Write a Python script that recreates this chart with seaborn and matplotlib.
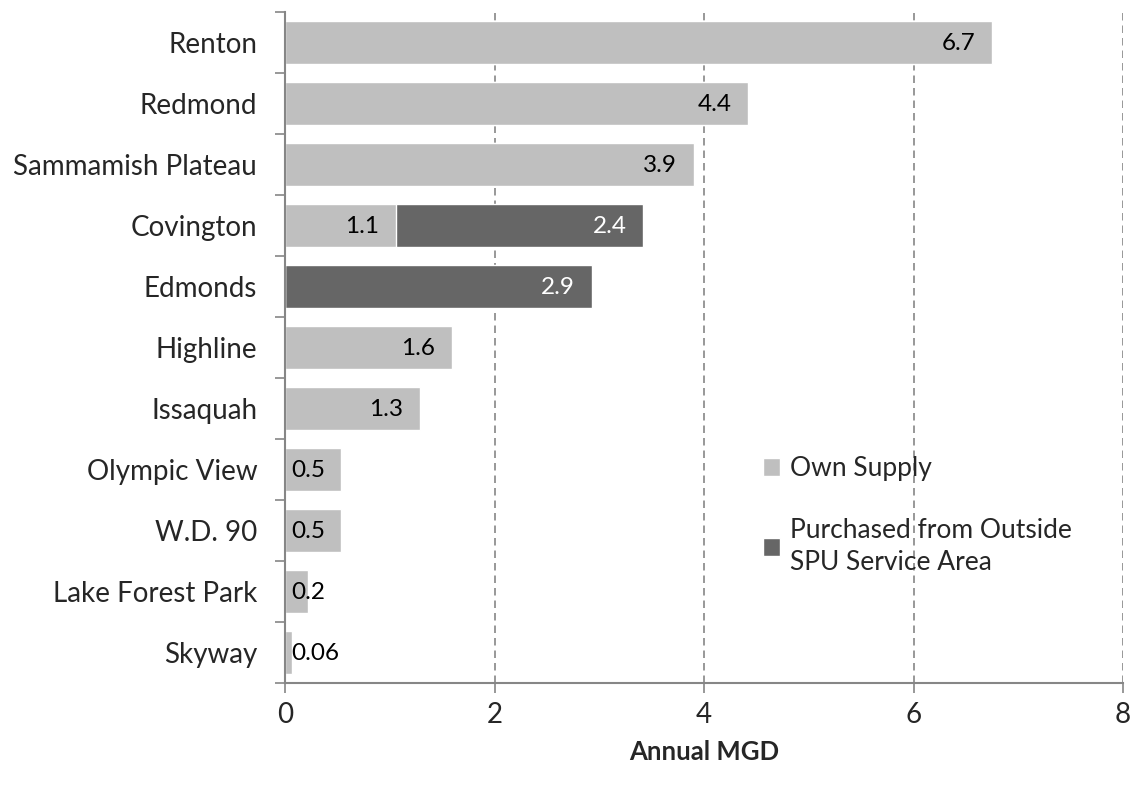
import seaborn as sns
import matplotlib.pyplot as plt
import pandas as pd

# data
districts = ["Renton", "Redmond", "Sammamish Plateau", "Covington", "Edmonds",
             "Highline", "Issaquah", "Olympic View", "W.D. 90",
             "Lake Forest Park", "Skyway"]
own_supply = [6.75, 4.42, 3.9, 1.06, 0.0, 1.59, 1.29, 0.53, 0.53, 0.22, 0.07]
purchased = [0, 0, 0, 2.36, 2.93, 0, 0, 0, 0, 0, 0]
own_labels = ["6.7", "4.4", "3.9", "1.1", "", "1.6", "1.3", "0.5", "0.5", "0.2", "0.06"]
purch_labels = ["", "", "", "2.4", "2.9", "", "", "", "", "", ""]

light = "#BFBFBF"
dark = "#666666"
axis_col = "#868686"

sns.set_theme(style="white")
plt.rcParams["font.family"] = ["Lato", "DejaVu Sans"]

df = pd.DataFrame({"district": districts, "own": own_supply, "purchased": purchased})
df["total"] = df["own"] + df["purchased"]

fig = plt.figure(figsize=(11.36, 7.86), dpi=100)
ax = fig.add_axes([0.2509, 0.131, 0.7377, 0.8537])

# stacked: totals in dark first, own supply on top in light
sns.barplot(data=df, y="district", x="total", color=dark, width=0.7,
            saturation=1, ax=ax, label="Purchased from Outside\nSPU Service Area")
sns.barplot(data=df, y="district", x="own", color=light, width=0.7,
            saturation=1, ax=ax, label="Own Supply")

# value labels
for i, (o, p, ol, pl) in enumerate(zip(own_supply, purchased, own_labels, purch_labels)):
    if ol:
        if o > 0.8:
            ax.text(o - 0.16, i + 0.02, ol, ha="right", va="center", fontsize=17.5, color="black")
        else:
            ax.text(0.06, i + 0.02, ol, ha="left", va="center", fontsize=17.5, color="black")
    if pl:
        ax.text(o + p - 0.16, i + 0.02, pl, ha="right", va="center", fontsize=17.5, color="white")

ax.set_xlim(0, 8)
ax.set_ylim(10.5, -0.5)
ax.set_xticks([0, 2, 4, 6, 8])
ax.set_xticklabels(["0", "2", "4", "6", "8"], fontsize=20)
ax.set_yticks(range(len(districts)))
ax.set_yticklabels(districts, fontsize=20)
ax.set_yticks([x - 0.5 for x in range(len(districts) + 1)], minor=True)
ax.tick_params(axis="y", which="major", length=0, pad=20)
ax.tick_params(axis="y", which="minor", length=7, width=1.2, color=axis_col, direction="out", left=True)
ax.tick_params(axis="x", which="major", length=7, width=1.2, color=axis_col, direction="out",
               bottom=True, pad=7)

ax.xaxis.grid(True, linestyle=(0, (4.5, 3)), color=axis_col, linewidth=1.2)
ax.set_axisbelow(True)

for side in ["top", "right"]:
    ax.spines[side].set_visible(False)
for side in ["left", "bottom"]:
    ax.spines[side].set_color(axis_col)
    ax.spines[side].set_linewidth(1.5)

ax.set_ylabel("")
ax.set_xlabel("Annual MGD", fontsize=18.5, fontweight="bold", labelpad=8)

handles, labels = ax.get_legend_handles_labels()
leg = ax.legend(handles[::-1], labels[::-1], loc="upper left",
                bbox_to_anchor=(0.558, 0.354), frameon=False, fontsize=19,
                handlelength=0.65, handleheight=0.65, handletextpad=0.35,
                labelspacing=1.4, borderaxespad=0)
for t in leg.get_texts():
    t.set_linespacing(1.35)

fig.savefig("out.png", dpi=100)
